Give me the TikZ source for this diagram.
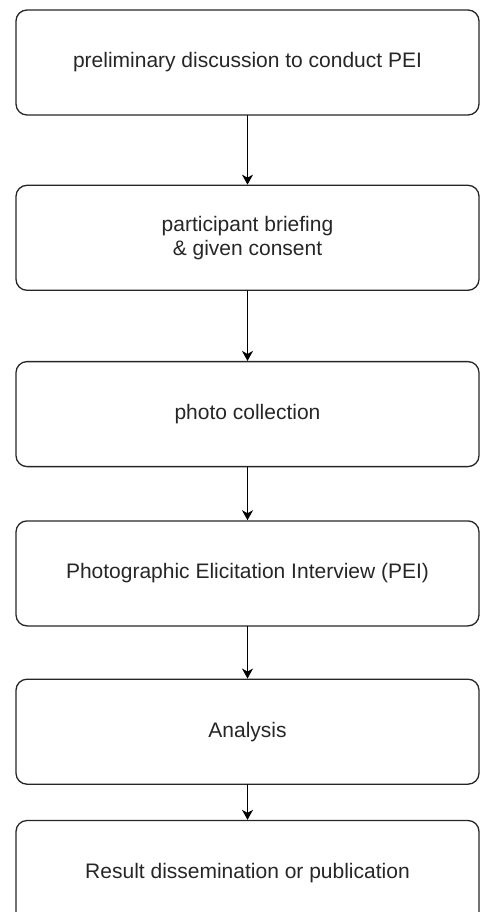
\documentclass[tikz,border=0pt]{standalone}
\usepackage{fontspec}
\setmainfont{Liberation Sans}
\usetikzlibrary{positioning,arrows.meta}
\begin{document}
\begin{tikzpicture}[x=1pt, y=1pt, line join=round, line cap=round, >={Stealth[length=10pt,width=11pt,inset=3pt]},
    stepbox/.style={draw=black!85, line width=1.3pt, rounded corners=11pt, minimum width=463pt, minimum height=105pt,
      align=center, font=\fontsize{21}{24}\selectfont, text=black!85},
    flow/.style={->, line width=1.3pt, draw=black}]
    \useasboundingbox (0,0) rectangle (480,-912);
    \node[stepbox] (disc) at (247.5,-62.5) {preliminary discussion to conduct PEI};
    \node[stepbox, below=69pt of disc] (brief) {participant briefing\\ \& given consent};
    \node[stepbox, below=70pt of brief] (photo) {photo collection};
    \node[stepbox, below=53pt of photo] (pei) {Photographic Elicitation Interview (PEI)};
    \node[stepbox, below=52pt of pei] (anal) {Analysis};
    \node[stepbox, below=35pt of anal] (result) {Result dissemination or publication};
    \foreach \a/\b in {disc/brief,brief/photo,photo/pei,pei/anal,anal/result}
        \draw[flow] (\a) -- (\b);
\end{tikzpicture}
\end{document}
